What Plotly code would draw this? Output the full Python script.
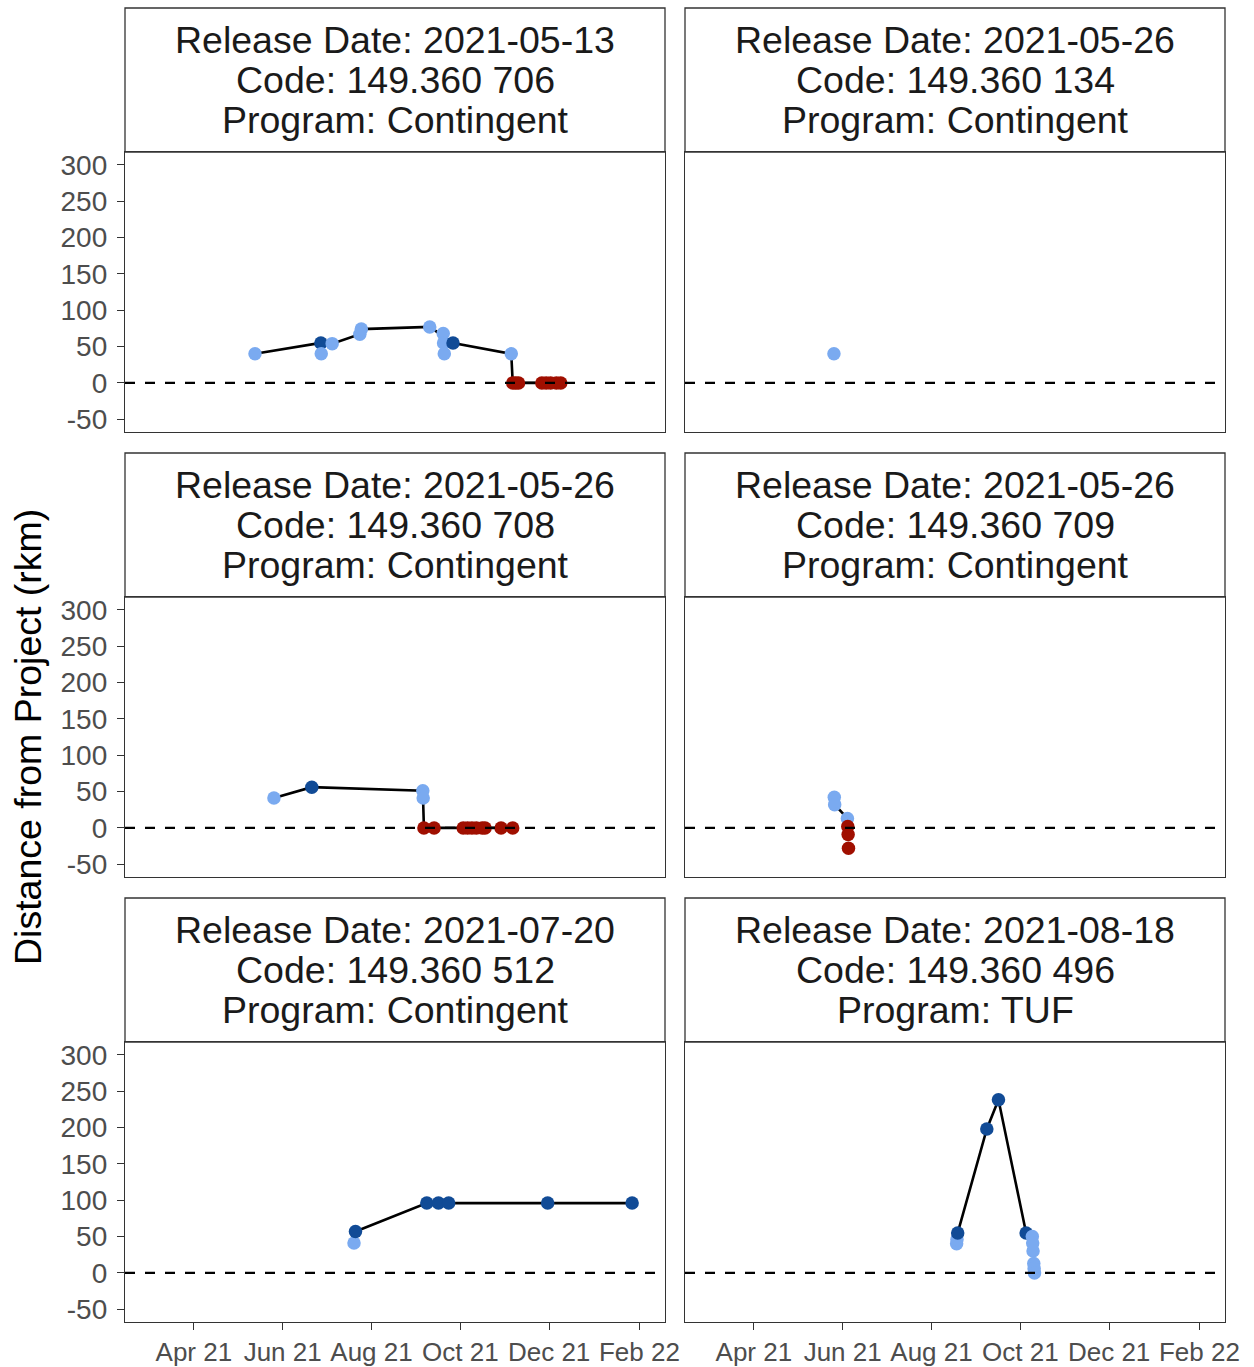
import plotly.graph_objects as go

# ---------------- data ----------------
release_dates = ["2021-05-13", "2021-05-26", "2021-05-26", "2021-05-26", "2021-07-20", "2021-08-18"]
codes = ["149.360 706", "149.360 134", "149.360 708", "149.360 709", "149.360 512", "149.360 496"]
programs = ["Contingent", "Contingent", "Contingent", "Contingent", "Contingent", "TUF"]

# detection type: "A" = light blue, "B" = dark blue, "C" = red
p1_dates = ["2021-05-13", "2021-06-27 06:00", "2021-06-27 12:00", "2021-07-05", "2021-07-24", "2021-07-25",
            "2021-09-10", "2021-09-19 06:00", "2021-09-19 12:00", "2021-09-20", "2021-09-26", "2021-11-05",
            "2021-11-06", "2021-11-08", "2021-11-10", "2021-11-26", "2021-11-29", "2021-12-02",
            "2021-12-06", "2021-12-09"]
p1_values = [40, 55, 40, 54, 67, 74, 77, 68, 55, 40, 55, 40, 0, 0, 0, 0, 0, 0, 0, 0]
p1_types = ["A", "B", "A", "A", "A", "A", "A", "A", "A", "A", "B", "A",
            "C", "C", "C", "C", "C", "C", "C", "C"]
p1_line_dates = ["2021-05-13", "2021-06-27 06:00", "2021-07-05", "2021-07-24", "2021-07-25",
                 "2021-09-10", "2021-09-26", "2021-11-05", "2021-11-06", "2021-12-09"]
p1_line_values = [40, 55, 54, 67, 74, 77, 55, 40, 0, 0]

p2_dates = ["2021-05-26"]
p2_values = [40]
p2_types = ["A"]
p2_line_dates = []
p2_line_values = []

p3_dates = ["2021-05-26", "2021-06-21", "2021-09-05 06:00", "2021-09-05 12:00", "2021-09-06",
            "2021-09-13", "2021-10-03", "2021-10-06", "2021-10-09", "2021-10-12", "2021-10-16",
            "2021-10-18", "2021-10-29", "2021-11-06"]
p3_values = [41, 56, 51, 41, 0, 0, 0, 0, 0, 0, 0, 0, 0, 0]
p3_types = ["A", "B", "A", "A", "C", "C", "C", "C", "C", "C", "C", "C", "C", "C"]
p3_line_dates = ["2021-05-26", "2021-06-21", "2021-09-05 06:00", "2021-09-05 12:00", "2021-09-06", "2021-11-06"]
p3_line_values = [41, 56, 51, 41, 0, 0]

p4_dates = ["2021-05-26 06:00", "2021-05-26 12:00", "2021-06-04 06:00", "2021-06-04 12:00",
            "2021-06-04 18:00", "2021-06-05"]
p4_values = [42, 32, 13, 2, -9, -28]
p4_types = ["A", "A", "A", "C", "C", "C"]
p4_line_dates = ["2021-05-26 12:00", "2021-06-04 06:00"]
p4_line_values = [32, 13]

p5_dates = ["2021-07-20", "2021-07-21", "2021-09-08", "2021-09-16", "2021-09-23", "2021-11-30", "2022-01-27"]
p5_values = [41, 57, 96, 96, 96, 96, 96]
p5_types = ["A", "B", "B", "B", "B", "B", "B"]
p5_line_dates = ["2021-07-21", "2021-09-08", "2021-09-16", "2021-09-23", "2021-11-30", "2022-01-27"]
p5_line_values = [57, 96, 96, 96, 96, 96]

p6_dates = ["2021-08-18 06:00", "2021-08-18 12:00", "2021-08-19", "2021-09-08", "2021-09-16", "2021-10-05",
            "2021-10-09 06:00", "2021-10-09 12:00", "2021-10-09 18:00", "2021-10-10 06:00",
            "2021-10-10 12:00", "2021-10-10 18:00"]
p6_values = [40, 46, 55, 198, 238, 55, 50, 41, 30, 13, 6, 0]
p6_types = ["A", "A", "B", "B", "B", "B", "A", "A", "A", "A", "A", "A"]
p6_line_dates = ["2021-08-19", "2021-09-08", "2021-09-16", "2021-10-05"]
p6_line_values = [55, 198, 238, 55]

x_tick_vals = ["2021-04-01", "2021-06-01", "2021-08-01", "2021-10-01", "2021-12-01", "2022-02-01"]
x_tick_text = ["Apr 21", "Jun 21", "Aug 21", "Oct 21", "Dec 21", "Feb 22"]
y_tick_vals = [-50, 0, 50, 100, 150, 200, 250, 300]
y_tick_text = ["-50", "0", "50", "100", "150", "200", "250", "300"]

# ---------------- styling ----------------
type_colors = {"A": "#7AAAF0", "B": "#114B96", "C": "#A00F00"}
FONT = "Liberation Sans, Arial, sans-serif"
BORDER = "#333333"

W, H = 1254, 1367
ML, MR, MT, MB = 125, 29, 8, 45
PW = W - ML - MR
PH = H - MT - MB
panel_w = 540
gap_w = 20
strip_h = 144
panel_h = 280
row_tops = [0, 445, 890]  # strip tops, px from top of plot area

panels = [
    (p1_dates, p1_values, p1_types, p1_line_dates, p1_line_values),
    (p2_dates, p2_values, p2_types, p2_line_dates, p2_line_values),
    (p3_dates, p3_values, p3_types, p3_line_dates, p3_line_values),
    (p4_dates, p4_values, p4_types, p4_line_dates, p4_line_values),
    (p5_dates, p5_values, p5_types, p5_line_dates, p5_line_values),
    (p6_dates, p6_values, p6_types, p6_line_dates, p6_line_values),
]

fig = go.Figure()
layout = dict(
    width=W, height=H, autosize=False,
    margin=dict(l=ML, r=MR, t=MT, b=MB, autoexpand=False),
    paper_bgcolor="white", plot_bgcolor="white",
    showlegend=False,
    font=dict(family=FONT),
)
shapes = []
annotations = []

x_range = ["2021-02-12 17:00", "2022-02-18 14:00"]
y_range = [-67.5, 317.5]

for i, (dts, vals, typs, ldts, lvals) in enumerate(panels):
    r, c = divmod(i, 2)
    n = i + 1
    xa = "x" if n == 1 else f"x{n}"
    ya = "y" if n == 1 else f"y{n}"
    x0 = c * (panel_w + gap_w) / PW
    x1 = (c * (panel_w + gap_w) + panel_w) / PW
    top = row_tops[r] + strip_h
    bot = top + panel_h
    y1 = 1 - top / PH
    y0 = max(0.0, 1 - bot / PH)

    bottom_row = (r == 2)
    left_col = (c == 0)
    layout["xaxis" if n == 1 else f"xaxis{n}"] = dict(
        domain=[x0, x1], anchor=ya, type="date", range=x_range, automargin=False,
        showgrid=False, zeroline=False,
        showline=True, linecolor=BORDER, linewidth=1.3, mirror=True,
        ticks="outside" if bottom_row else "", ticklen=7, tickwidth=1.4, tickcolor=BORDER,
        tickvals=x_tick_vals, ticktext=x_tick_text, showticklabels=bottom_row,
        ticklabelstandoff=0,
        tickfont=dict(size=26, color="#4D4D4D", family=FONT),
    )
    layout["yaxis" if n == 1 else f"yaxis{n}"] = dict(
        domain=[y0, y1], anchor=xa, range=y_range, automargin=False,
        showgrid=False, zeroline=False,
        showline=True, linecolor=BORDER, linewidth=1.3, mirror=True,
        ticks="outside" if left_col else "", ticklen=7, tickwidth=1.4, tickcolor=BORDER,
        tickvals=y_tick_vals, ticktext=y_tick_text, showticklabels=left_col,
        ticklabelstandoff=4,
        tickfont=dict(size=28, color="#4D4D4D", family=FONT),
    )

    if ldts:
        fig.add_trace(go.Scatter(x=ldts, y=lvals, mode="lines", xaxis=xa, yaxis=ya,
                                 line=dict(color="black", width=2.6), hoverinfo="skip"))
    fig.add_trace(go.Scatter(x=dts, y=vals, mode="markers", xaxis=xa, yaxis=ya,
                             marker=dict(size=13.5, color=[type_colors[t] for t in typs],
                                         line=dict(width=0))))

    # dashed zero line
    shapes.append(dict(type="line", xref=f"{xa} domain", yref=ya, x0=0, x1=1, y0=0, y1=0,
                       line=dict(color="black", width=2.2, dash="10px,10px"), layer="above"))
    # strip box
    shapes.append(dict(type="rect", xref=f"{xa} domain", yref=f"{ya} domain",
                       x0=0, x1=1, y0=1, y1=1 + strip_h / panel_h,
                       line=dict(color=BORDER, width=1.3), fillcolor="white", layer="below"))
    lines = [f"Release Date: {release_dates[i]}", f"Code: {codes[i]}", f"Program: {programs[i]}"]
    for k, txt in enumerate(lines):
        yc = 1 + (strip_h / 2 + 40 - 40 * k) / panel_h
        annotations.append(dict(text=txt, xref=f"{xa} domain", yref=f"{ya} domain",
                                x=0.5, y=yc, xanchor="center", yanchor="middle", showarrow=False,
                                font=dict(size=37.5, color="#1A1A1A", family=FONT)))

annotations.append(dict(text="Distance from Project (rkm)", xref="paper", yref="paper",
                        x=(28 - ML) / PW, y=1 - (737 - MT) / PH, xanchor="center", yanchor="middle",
                        textangle=-90, showarrow=False,
                        font=dict(size=37.5, color="black", family=FONT)))

layout["shapes"] = shapes
layout["annotations"] = annotations
fig.update_layout(**layout)

fig.write_html("out.html", config={"displayModeBar": False},
               post_script="document.body.style.margin='0';")
